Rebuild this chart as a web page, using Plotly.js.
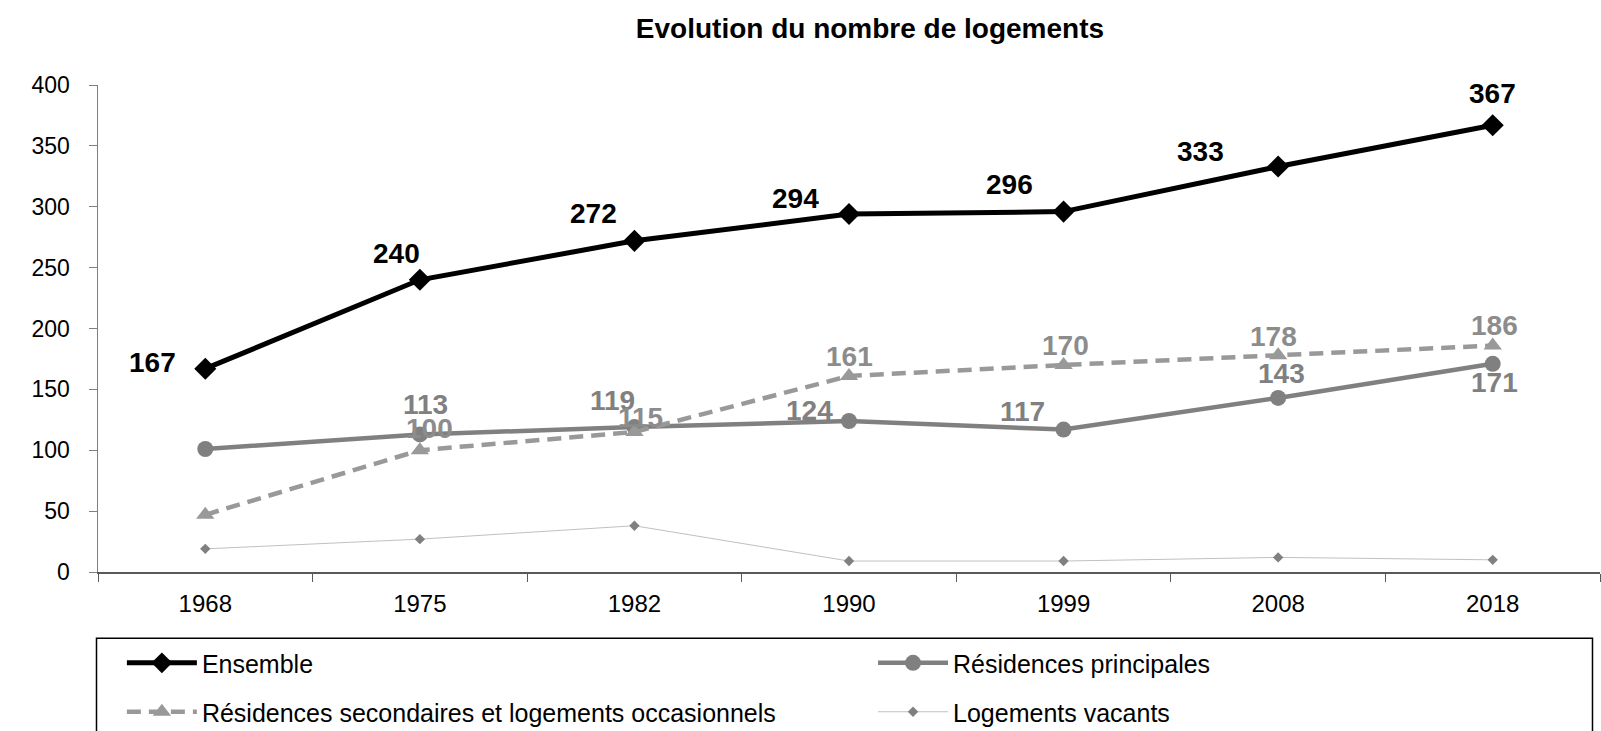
<!DOCTYPE html>
<html>
<head>
<meta charset="utf-8">
<script src="https://cdn.plot.ly/plotly-3.0.1.min.js"></script>
<style>
  html, body { margin: 0; padding: 0; background: #fff; }
  #graph { width: 1601px; height: 731px; }
</style>
</head>
<body>
<div id="graph"></div>
<script>
// Evolution du nombre de logements
const years = ['1968', '1975', '1982', '1990', '1999', '2008', '2018'];

const ensemble = [167, 240, 272, 294, 296, 333, 367];
const principales = [101, 113, 119, 124, 117, 143, 171];
const secondaires = [47, 100, 115, 161, 170, 178, 186];
const vacants = [19, 27, 38, 9, 9, 12, 10];

// labels shown on the chart (first point of the gray series is not labelled)
const ensembleLabels = ['167', '240', '272', '294', '296', '333', '367'];
const principalesLabels = ['', '113', '119', '124', '117', '143', '171'];
const secondairesLabels = ['', '100', '115', '161', '170', '178', '186'];

const FONT = '"Liberation Sans", Arial, sans-serif';

// label offsets in px from each point, [dx, dy] with dy pointing up
const ensembleOffsets = [[-53, 6], [-23, 26], [-41, 27], [-54, 16], [-54, 27], [-78, 15], [0, 32]];
const principalesOffsets = [[0, 0], [6, 30], [-22, 27], [-40, 11], [-41, 18], [3, 24], [2, -19]];
const secondairesOffsets = [[0, 0], [10, 22], [6, 14], [0, 19], [2, 20], [-5, 19], [2, 20]];

function labelAnnotations(values, labels, offsets, color) {
    const notes = [];
    values.forEach((v, i) => {
        if (!labels[i]) return;
        notes.push({
            x: i,   // category index on the x axis
            y: v,
            xref: 'x',
            yref: 'y',
            text: '<b>' + labels[i] + '</b>',
            showarrow: false,
            xanchor: 'center',
            yanchor: 'middle',
            xshift: offsets[i][0],
            yshift: offsets[i][1],
            font: {family: FONT, size: 28, color: color},
        });
    });
    return notes;
}

function drawGraph() {
    const ensembleTrace = {
        x: years,
        y: ensemble,
        name: 'Ensemble',
        mode: 'lines+markers',
        line: {color: '#000000', width: 5},
        marker: {symbol: 'diamond', size: 17, color: '#000000'},
        legend: 'legend',
        cliponaxis: false,
    };

    const principalesTrace = {
        x: years,
        y: principales,
        name: 'Résidences principales',
        mode: 'lines+markers',
        line: {color: '#808080', width: 4.5},
        marker: {symbol: 'circle', size: 16, color: '#808080'},
        legend: 'legend2',
        cliponaxis: false,
    };

    const secondairesTrace = {
        x: years,
        y: secondaires,
        name: 'Résidences secondaires et logements occasionnels',
        mode: 'lines+markers',
        line: {color: '#999999', width: 4.5, dash: '14px,8px'},
        marker: {symbol: 'triangle-up', size: 16, color: '#999999'},
        legend: 'legend3',
        cliponaxis: false,
    };

    const vacantsTrace = {
        x: years,
        y: vacants,
        name: 'Logements vacants',
        mode: 'lines+markers',
        line: {color: '#c0c0c0', width: 1},
        marker: {symbol: 'diamond', size: 8, color: '#808080'},
        legend: 'legend4',
    };

    // one legend per entry so the 2x2 grid matches the reference box
    const legendStyle = (x, y) => ({
        orientation: 'h',
        x: x,
        xanchor: 'left',
        y: y,
        yanchor: 'middle',
        itemwidth: 70,
        font: {family: FONT, size: 25, color: '#000000'},
        bgcolor: 'rgba(0,0,0,0)',
        borderwidth: 0,
    });

    const annotations = []
        .concat(labelAnnotations(ensemble, ensembleLabels, ensembleOffsets, '#000000'))
        .concat(labelAnnotations(principales, principalesLabels, principalesOffsets, '#808080'))
        .concat(labelAnnotations(secondaires, secondairesLabels, secondairesOffsets, '#8c8c8c'));

    const layout = {
        width: 1601,
        height: 731,
        paper_bgcolor: '#ffffff',
        plot_bgcolor: '#ffffff',
        font: {family: FONT, size: 24, color: '#000000'},
        title: {
            text: '<b>Evolution du nombre de logements</b>',
            font: {family: FONT, size: 28, color: '#000000'},
            x: 0.5434,
            xanchor: 'center',
            y: 0.962,
            yanchor: 'middle',
            yref: 'container',
        },
        xaxis: {
            type: 'category',
            range: [-0.5, 6.5],
            showline: true,
            linecolor: '#595959',
            linewidth: 1.5,
            ticks: 'outside',
            tickson: 'boundaries',
            ticklen: 8,
            tickcolor: '#595959',
            ticklabelstandoff: 10,
            showgrid: false,
            zeroline: false,
            tickfont: {family: FONT, size: 24},
        },
        yaxis: {
            range: [0, 400],
            dtick: 50,
            showline: true,
            linecolor: '#7f7f7f',
            linewidth: 1.5,
            ticks: 'outside',
            ticklen: 8,
            tickcolor: '#7f7f7f',
            ticklabelstandoff: 14,
            showgrid: false,
            zeroline: false,
            tickfont: {family: FONT, size: 23},
        },
        margin: {l: 98, r: 1, t: 85, b: 159, autoexpand: false},
        showlegend: true,
        legend: legendStyle(0.0159, -0.187),
        legend2: legendStyle(0.516, -0.187),
        legend3: legendStyle(0.0159, -0.2875),
        legend4: legendStyle(0.516, -0.2875),
        annotations: annotations,
        shapes: [{
            type: 'rect',
            xref: 'paper',
            yref: 'paper',
            x0: -0.001,
            x1: 0.995,
            y0: -0.136,
            y1: -0.36,
            line: {color: '#000000', width: 1.5},
        }],
    };

    const config = {
        displayModeBar: false,
        staticPlot: true,
    };

    Plotly.newPlot('graph',
        [ensembleTrace, principalesTrace, secondairesTrace, vacantsTrace],
        layout, config);
}

drawGraph();
</script>
</body>
</html>
